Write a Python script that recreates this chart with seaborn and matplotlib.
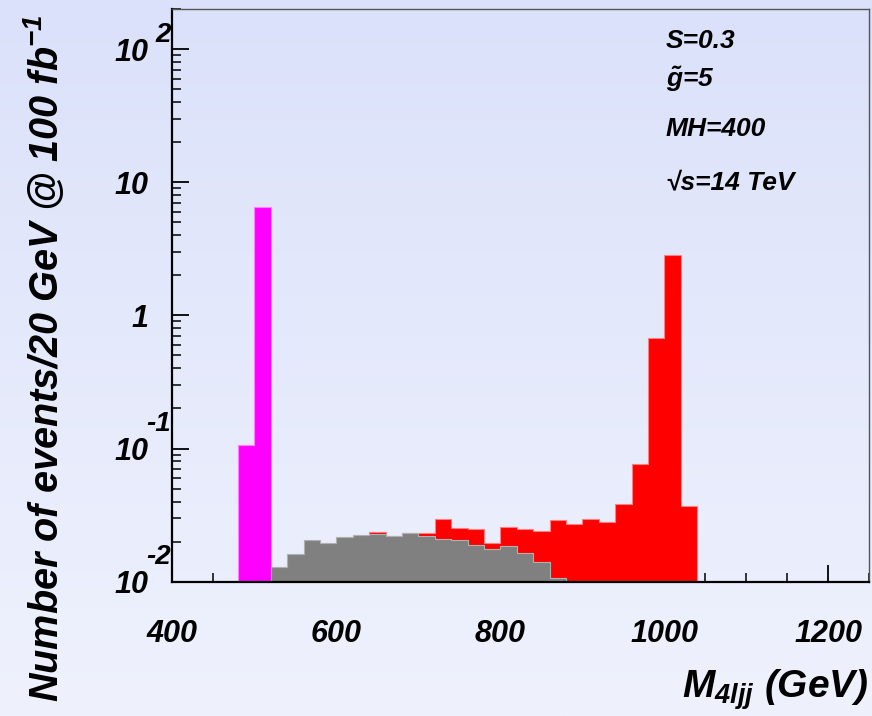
import numpy as np
import matplotlib
matplotlib.use("Agg")
import matplotlib.pyplot as plt
import matplotlib.ticker as mticker
import matplotlib.transforms as mtransforms
import seaborn as sns

# ---------------- data ----------------
bin_width = 20
magenta_left = [480, 500]
magenta_vals = [0.107, 6.5]

gray_left = [520, 540, 560, 580, 600, 620, 640, 660, 680, 700,
             720, 740, 760, 780, 800, 820, 840, 860]
gray_vals = [0.0128, 0.0162, 0.0206, 0.0194, 0.0217, 0.0224, 0.0227, 0.0221, 0.0231, 0.0219,
             0.0209, 0.0207, 0.0190, 0.0176, 0.0185, 0.01635, 0.0141, 0.0106]

red_left = [640, 660, 680, 700, 720, 740, 760, 780, 800, 820,
            840, 860, 880, 900, 920, 940, 960, 980, 1000, 1020]
red_vals = [0.0235, 0.0222, 0.0232, 0.0231, 0.0298, 0.0255, 0.0249, 0.0194, 0.0258, 0.0249,
            0.0239, 0.0289, 0.0272, 0.0298, 0.0281, 0.0384, 0.0767, 0.679, 2.83, 0.0371]

x_ticks = [400, 600, 800, 1000, 1200]
y_ticks = [0.01, 0.1, 1, 10, 100]
y_tick_labels = ["10", "10", "1", "10", "10"]
y_exponents = [(0.01, "-2", 25), (0.1, "-1", 25), (100, "2", 14)]
info_lines = ["S=0.3", r"$\tilde{g}$=5", "MH=400", "\u221as=14 TeV"]

# ---------------- style ----------------
sns.set_theme(style="white")
plt.rcParams["font.family"] = ["Liberation Sans", "DejaVu Sans"]
plt.rcParams["text.color"] = "black"
plt.rcParams["axes.labelcolor"] = "black"
plt.rcParams["xtick.color"] = "black"
plt.rcParams["ytick.color"] = "black"
plt.rcParams["mathtext.fontset"] = "custom"
plt.rcParams["mathtext.rm"] = "Liberation Sans:bold:italic"
plt.rcParams["mathtext.it"] = "Liberation Sans:bold:italic"
plt.rcParams["mathtext.bf"] = "Liberation Sans:bold:italic"
plt.rcParams["mathtext.sf"] = "Liberation Sans:bold:italic"

fig = plt.figure(figsize=(8.72, 7.16), dpi=100)

# gradient background
bg = fig.add_axes([0, 0, 1, 1], zorder=-10)
top_c = np.array([219, 225, 250]) / 255.0
bot_c = np.array([239, 242, 253]) / 255.0
t = np.linspace(0, 1, 256)[:, None]
grad = (top_c[None, :] * (1 - t) + bot_c[None, :] * t)[:, None, :]
bg.imshow(grad, aspect="auto", extent=[0, 1, 0, 1], origin="upper")
bg.set_axis_off()

ax = fig.add_axes([172.3 / 872, 134.3 / 716, (869.3 - 172.3) / 872, (581.7 - 9) / 716])
ax.set_facecolor("none")
ax.set_yscale("log")


def draw(left, vals, color, edge):
    edges = list(left) + [left[-1] + bin_width]
    centers = [l + bin_width / 2 for l in left]
    sns.histplot(x=centers, weights=vals, bins=edges, element="step", fill=True,
                 color=color, alpha=1.0, edgecolor=edge, linewidth=0.8, ax=ax)


draw(magenta_left, magenta_vals, "#ff00ff", "#ff80ff")
draw(red_left, red_vals, "#ff0000", "#ff8080")
draw(gray_left, gray_vals, "#808080", "#b0b0b0")

ax.set_xlim(400, 1250)
ax.set_ylim(0.01, 200)

# ticks
ax.set_xticks(x_ticks)
ax.set_xticklabels([str(v) for v in x_ticks])
ax.xaxis.set_minor_locator(mticker.MultipleLocator(50))
ax.set_yticks(y_ticks)
ax.set_yticklabels(y_tick_labels)
ax.yaxis.set_minor_locator(mticker.LogLocator(base=10, subs=np.arange(2, 10)))
ax.yaxis.set_minor_formatter(mticker.NullFormatter())

ax.tick_params(axis="both", which="major", direction="in", length=12.5, width=1.3,
               color="black", bottom=True, left=True, top=False, right=False)
ax.tick_params(axis="both", which="minor", direction="in", length=6.2, width=1.1,
               color="black", bottom=True, left=True, top=False, right=False)
ax.tick_params(axis="x", which="major", pad=27)
ax.tick_params(axis="y", which="major", pad=17)
for lab in ax.get_xticklabels() + ax.get_yticklabels():
    lab.set_fontsize(22)
    lab.set_fontweight("bold")
    lab.set_fontstyle("italic")
    lab.set_color("black")

# exponents
trans = mtransforms.blended_transform_factory(ax.transAxes, ax.transData)
for val, ex, off in y_exponents:
    ax.text(-0.002, val * 10 ** (off / 133.0), ex, transform=trans, ha="right", va="center",
            fontsize=20, fontweight="bold", fontstyle="italic", color="black")

# spines
for side in ["left", "bottom"]:
    ax.spines[side].set_color("black")
    ax.spines[side].set_linewidth(1.6)
for side in ["top", "right"]:
    ax.spines[side].set_color("#555555")
    ax.spines[side].set_linewidth(1.0)

# labels
ax.set_xlabel(r"$M_{4ljj}$ (GeV)", fontsize=28, fontweight="bold", fontstyle="italic",
              loc="right", color="black")
ax.xaxis.set_label_coords(0.9986, -0.15)
ax.set_ylabel(r"Number of events/20 GeV @ 100 fb$^{-1}$", fontsize=28.5, fontweight="bold",
              fontstyle="italic", loc="top", color="black")
ax.yaxis.set_label_coords(-0.153, 0.99)

# info text
ys = [0.944, 0.877, 0.790, 0.697]
for txt, yy in zip(info_lines, ys):
    ax.text(0.708, yy, txt, transform=ax.transAxes, ha="left", va="center",
            fontsize=19, fontweight="bold", fontstyle="italic", color="black")

fig.savefig("out.png", dpi=100)
